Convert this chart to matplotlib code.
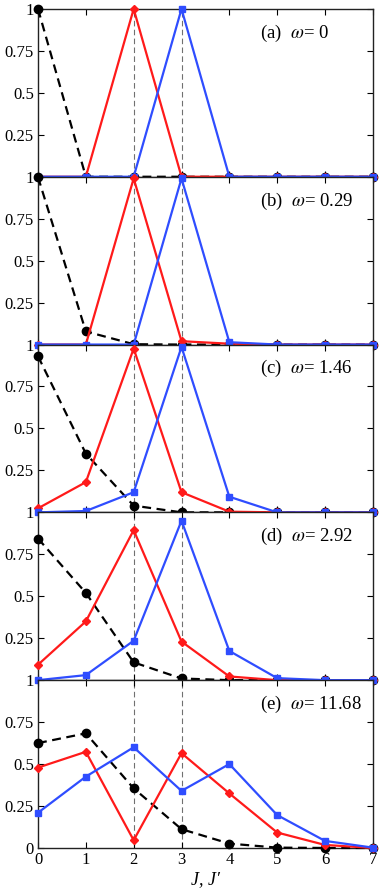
import numpy as np
import matplotlib
matplotlib.use("Agg")
import matplotlib.pyplot as plt

plt.rcParams['font.family'] = ['Liberation Serif', 'DejaVu Serif']
plt.rcParams['mathtext.fontset'] = 'stix'

J = [0, 1, 2, 3, 4, 5, 6, 7]
labels = ["(a)", "(b)", "(c)", "(d)", "(e)"]
omegas = ["0", "0.29", "1.46", "2.92", "11.68"]

# black dashed (circles)
black_a = [1.0, 0, 0, 0, 0, 0, 0, 0]
black_b = [0.998, 0.078, 0.002, 0, 0, 0, 0, 0]
black_c = [0.93, 0.35, 0.04, 0.0, 0, 0, 0, 0]
black_d = [0.844, 0.52, 0.106, 0.01, 0.0, 0, 0, 0]
black_e = [0.625, 0.683, 0.355, 0.112, 0.026, 0.002, 0, 0]

# red (diamonds)
red_a = [0, 0, 1.0, 0, 0, 0, 0, 0]
red_b = [0, 0, 0.99, 0.02, 0.005, 0, 0, 0]
red_c = [0.024, 0.18, 0.976, 0.12, 0.004, 0, 0, 0]
red_d = [0.092, 0.35, 0.894, 0.23, 0.022, 0.0, 0, 0]
red_e = [0.479, 0.573, 0.046, 0.565, 0.325, 0.092, 0.018, 0.0]

# blue (squares)
blue_a = [0, 0, 0, 1.0, 0, 0, 0, 0]
blue_b = [0, 0, 0, 0.99, 0.014, 0, 0, 0]
blue_c = [0, 0.008, 0.12, 0.986, 0.093, 0, 0, 0]
blue_d = [0, 0.03, 0.235, 0.95, 0.174, 0.012, 0, 0]
blue_e = [0.21, 0.425, 0.6, 0.34, 0.5, 0.196, 0.042, 0.002]

blacks = [black_a, black_b, black_c, black_d, black_e]
reds = [red_a, red_b, red_c, red_d, red_e]
blues = [blue_a, blue_b, blue_c, blue_d, blue_e]

fig = plt.figure(figsize=(3.82, 8.94), dpi=100)
gs = fig.add_gridspec(5, 1, left=0.0995, right=0.976, top=0.99, bottom=0.0515, hspace=0)

for i in range(5):
    ax = fig.add_subplot(gs[i])
    for xv in [2, 3]:
        ax.axvline(xv, color='#707070', lw=0.8, ls=(0, (5, 3)), zorder=1)
    ax.plot(J, blacks[i], color='black', ls=(0, (4, 2.5)), lw=1.6, marker='o',
            ms=6, clip_on=False, zorder=3)
    ax.plot(J, reds[i], color='#ff1a1a', lw=1.6, marker='D', ms=4.5,
            clip_on=False, zorder=4)
    ax.plot(J, blues[i], color='#2f4dff', lw=1.6, marker='s', ms=5,
            clip_on=False, zorder=5)
    ax.set_xlim(0, 7)
    ax.set_ylim(0, 1)
    ax.set_xticks(J)
    ax.set_yticks([0, 0.25, 0.5, 0.75, 1])
    if i < 4:
        ax.set_yticklabels(["", "0.25", "0.5", "0.75", "1"])
        ax.set_xticklabels([])
    else:
        ax.set_yticklabels(["0", "0.25", "0.5", "0.75", "1"])
        ax.set_xlabel("J, J\u2032", fontsize=13, fontstyle='italic', labelpad=2)
    ax.tick_params(direction='in', top=True, right=True, length=4, width=0.8,
                   labelsize=12, pad=3)
    for sp in ax.spines.values():
        sp.set_linewidth(1.0)
        sp.set_color('#222222')
    ax.text(0.663, 0.855, labels[i] + r"  $\omega$= " + omegas[i],
            transform=ax.transAxes, ha='left', va='center', fontsize=13.5)

fig.savefig("out.png", dpi=100)
